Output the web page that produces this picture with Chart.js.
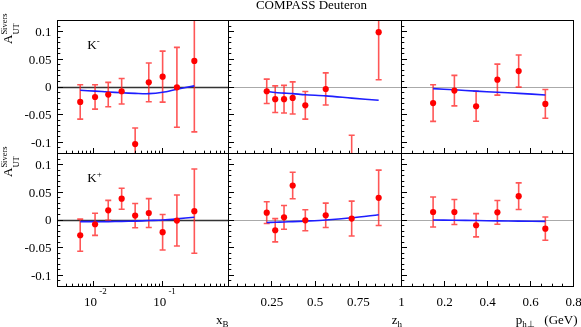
<!DOCTYPE html>
<html>
<head>
<meta charset="utf-8">
<script src="https://cdn.jsdelivr.net/npm/chart.js@4.4.1/dist/chart.umd.min.js"></script>
<style>
  html, body { margin: 0; padding: 0; background: #fff; }
  #wrap { position: relative; width: 581px; height: 327px; }
  #wrap canvas { position: absolute; left: 0; top: 0; }
</style>
</head>
<body>
<div id="wrap"></div>
<script>
const FONT = '"Liberation Serif", "Times New Roman", serif';

// bin centres
const xB = [0.0064, 0.0105, 0.0163, 0.0255, 0.040, 0.063, 0.100, 0.161, 0.288];
const zh = [0.221, 0.27, 0.321, 0.371, 0.444, 0.562, 0.712, 0.868];
const pt = [0.147, 0.246, 0.347, 0.446, 0.545, 0.669];

// K- asymmetries
const kmX = [-0.027, -0.018, -0.0137, -0.0077, -0.103, 0.0084, 0.0187, -0.0005, 0.047];
const kmXErr = [0.031, 0.022, 0.022, 0.023, 0.029, 0.035, 0.046, 0.072, 0.128];
const kmXFit = [-0.006, -0.0075, -0.009, -0.0105, -0.0115, -0.012, -0.0095, -0.004, 0.002];
const kmZ = [-0.0077, -0.022, -0.022, -0.0197, -0.033, -0.0036, -0.13, 0.099];
const kmZErr = [0.022, 0.024, 0.025, 0.029, 0.025, 0.029, 0.043, 0.086];
const kmZFit = [-0.008, -0.010, -0.011, -0.012, -0.014, -0.016, -0.020, -0.024];
const kmP = [-0.029, -0.0065, -0.0347, 0.0133, 0.0287, -0.0305];
const kmPErr = [0.033, 0.0275, 0.027, 0.028, 0.029, 0.026];
const kmPFit = [-0.003, -0.005, -0.0075, -0.0095, -0.0115, -0.0144];

// K+ asymmetries
const kpX = [-0.0275, -0.0077, 0.0174, 0.0384, 0.0079, 0.0126, -0.022, -0.001, 0.016];
const kpXErr = [0.029, 0.020, 0.018, 0.019, 0.022, 0.026, 0.032, 0.046, 0.076];
const kpXFit = [-0.003, -0.003, -0.003, -0.0025, -0.002, -0.001, 0.000, 0.002, 0.005];
const kpZ = [0.0133, -0.0185, 0.0048, 0.0623, -0.0005, 0.0084, 0.0025, 0.040];
const kpZErr = [0.0195, 0.021, 0.0215, 0.024, 0.019, 0.022, 0.0315, 0.050];
const kpZFit = [-0.0045, -0.004, -0.0035, -0.003, -0.002, 0.000, 0.004, 0.0095];
const kpP = [0.0144, 0.0144, -0.0095, 0.0138, 0.043, -0.0156];
const kpPErr = [0.027, 0.0225, 0.021, 0.0215, 0.024, 0.021];
const kpPFit = [0, -0.0005, -0.001, -0.0015, -0.002, -0.0025];

// ticks
const yMajor = [-0.1, -0.05, 0, 0.05, 0.1];
const yTickLabels = ['-0.1', '-0.05', '0', '0.05', '0.1'];
const xBMajor = [0.01, 0.1];
const xBExponents = ['-2', '-1'];
const zMajor = [0.25, 0.5, 0.75, 1];
const zTickLabels = ['0.25', '0.5', '0.75', '1'];
const pMajor = [0.2, 0.4, 0.6, 0.8];
const pTickLabels = ['0.2', '0.4', '0.6', '0.8'];

const yMinor = [];
for (let i = -12; i <= 12; i++) if (i % 5 !== 0) yMinor.push(i / 100);
const xBMinor = [];
[0.001, 0.01, 0.1].forEach(d => {
    for (let k = 2; k <= 9; k++) {
        const v = k * d;
        if (v > 0.0031 && v < 0.89) xBMinor.push(v);
    }
});
const zMinor = [];
for (let i = 1; i < 20; i++) if (i % 5 !== 0) zMinor.push(i / 20);
const pMinor = [];
for (let i = 1; i < 16; i++) if (i % 4 !== 0) pMinor.push(i / 20);

// pad layout
const colEdges = [57.5, 228.5, 401.5, 573.5];
const rowEdges = [20.5, 153.5, 286.5];

const xAxes = [
    { type: 'logarithmic', min: 0.003, max: 0.9, major: xBMajor, minor: xBMinor },
    { type: 'linear', min: 0, max: 1, major: zMajor, minor: zMinor, labels: zTickLabels },
    { type: 'linear', min: 0, max: 0.8, major: pMajor, minor: pMinor, labels: pTickLabels }
];

const panels = [
    { row: 0, col: 0, x: xB, val: kmX, err: kmXErr, fit: kmXFit, sign: '-' },
    { row: 0, col: 1, x: zh, val: kmZ, err: kmZErr, fit: kmZFit },
    { row: 0, col: 2, x: pt, val: kmP, err: kmPErr, fit: kmPFit },
    { row: 1, col: 0, x: xB, val: kpX, err: kpXErr, fit: kpXFit, sign: '+' },
    { row: 1, col: 1, x: zh, val: kpZ, err: kpZErr, fit: kpZFit },
    { row: 1, col: 2, x: pt, val: kpP, err: kpPErr, fit: kpPFit }
];

const snap = v => Math.round(v - 0.5) + 0.5;

// draws a run of text pieces; keep:true does not move the pen (stacked sup/sub)
function rich(ctx, parts, x, y) {
    let cx = x;
    parts.forEach(p => {
        ctx.font = p.size + 'px ' + FONT;
        ctx.fillText(p.t, cx, y + (p.dy || 0));
        if (!p.keep) cx += ctx.measureText(p.t).width;
    });
}
function richWidth(ctx, parts) {
    let w = 0;
    parts.forEach(p => {
        ctx.font = p.size + 'px ' + FONT;
        if (!p.keep) w += ctx.measureText(p.t).width;
    });
    return w;
}

const panelPlugin = {
    id: 'panel',
    beforeDatasetsDraw(chart, args, o) {
        const p = panels[o.index];
        const { ctx, chartArea: a, scales: { x, y } } = chart;
        ctx.save();
        ctx.beginPath();
        ctx.rect(a.left, a.top, a.right - a.left, a.bottom - a.top);
        ctx.clip();

        // zero line
        const y0 = snap(y.getPixelForValue(0));
        ctx.strokeStyle = p.col === 0 ? '#333' : '#aaa';
        ctx.lineWidth = p.col === 0 ? 1.3 : 1.1;
        ctx.beginPath();
        ctx.moveTo(a.left, y0);
        ctx.lineTo(a.right, y0);
        ctx.stroke();

        // error bars
        ctx.strokeStyle = 'rgba(255, 30, 30, 0.75)';
        ctx.lineWidth = 1.6;
        p.x.forEach((xv, i) => {
            const px = x.getPixelForValue(xv);
            const hi = y.getPixelForValue(p.val[i] + p.err[i]);
            const lo = y.getPixelForValue(p.val[i] - p.err[i]);
            ctx.beginPath();
            ctx.moveTo(px, hi); ctx.lineTo(px, lo);
            ctx.moveTo(px - 3, hi); ctx.lineTo(px + 3, hi);
            ctx.moveTo(px - 3, lo); ctx.lineTo(px + 3, lo);
            ctx.stroke();
        });
        ctx.restore();
    },
    afterDraw(chart, args, o) {
        const p = panels[o.index];
        const ax = xAxes[p.col];
        const { ctx, chartArea: a, scales: { x, y } } = chart;
        ctx.save();
        ctx.strokeStyle = '#000';
        ctx.lineWidth = 1;

        // inside ticks, left and bottom
        ctx.beginPath();
        yMinor.forEach(v => {
            const py = snap(y.getPixelForValue(v));
            ctx.moveTo(a.left, py); ctx.lineTo(a.left + 2.8, py);
        });
        yMajor.forEach(v => {
            const py = snap(y.getPixelForValue(v));
            ctx.moveTo(a.left, py); ctx.lineTo(a.left + 5.5, py);
        });
        ax.minor.forEach(v => {
            const px = snap(x.getPixelForValue(v));
            ctx.moveTo(px, a.bottom); ctx.lineTo(px, a.bottom - 2.8);
        });
        ax.major.forEach(v => {
            const px = snap(x.getPixelForValue(v));
            ctx.moveTo(px, a.bottom); ctx.lineTo(px, a.bottom - 5.5);
        });
        ctx.stroke();
        ctx.strokeRect(a.left, a.top, a.right - a.left, a.bottom - a.top);

        ctx.fillStyle = '#000';
        // y tick labels on the left column
        if (p.col === 0) {
            ctx.font = '13px ' + FONT;
            ctx.textAlign = 'right';
            ctx.textBaseline = 'middle';
            yMajor.forEach((v, i) => {
                ctx.fillText(yTickLabels[i], 51.5, y.getPixelForValue(v) + 1);
            });
            ctx.textAlign = 'left';
            ctx.textBaseline = 'alphabetic';
            rich(ctx, [{ t: 'K', size: 13 }, { t: p.sign, size: 9, dy: -4.5 }], 87.3, a.top + 28);
        }
        // x tick labels on the bottom row
        if (p.row === 1) {
            ctx.textBaseline = 'alphabetic';
            if (ax.type === 'logarithmic') {
                ctx.textAlign = 'left';
                ax.major.forEach((v, i) => {
                    const px = x.getPixelForValue(v);
                    rich(ctx, [{ t: '10', size: 13 }, { t: ' ' + xBExponents[i], size: 9, dy: -12 }], px - 9.5, 306);
                });
            } else {
                ctx.font = '13px ' + FONT;
                ctx.textAlign = 'center';
                ax.major.forEach((v, i) => {
                    ctx.fillText(ax.labels[i], x.getPixelForValue(v), 306);
                });
            }
        }
        ctx.restore();
    }
};

// title and axis titles
const textPlugin = {
    id: 'texts',
    afterDraw(chart) {
        const ctx = chart.ctx;
        ctx.save();
        ctx.fillStyle = '#000';
        ctx.textBaseline = 'alphabetic';
        ctx.font = '13px ' + FONT;
        ctx.textAlign = 'center';
        ctx.fillText('COMPASS Deuteron', 311.5, 9);
        ctx.textAlign = 'left';

        [0, 1].forEach(r => {
            ctx.save();
            ctx.translate(11.5, 44 + r * 133);
            ctx.rotate(-Math.PI / 2);
            rich(ctx, [
                { t: 'A', size: 13 },
                { t: 'Sivers', size: 8.5, dy: -5, keep: true },
                { t: 'UT', size: 8.5, dy: 7 }
            ], 0, 0);
            ctx.restore();
        });

        const xt = [{ t: 'x', size: 13 }, { t: 'B', size: 9, dy: 3 }];
        rich(ctx, xt, colEdges[1] - richWidth(ctx, xt), 324);
        const zt = [{ t: 'z', size: 13 }, { t: 'h', size: 9, dy: 3 }];
        rich(ctx, zt, colEdges[2] + 0.5 - richWidth(ctx, zt), 324);
        rich(ctx, [{ t: 'p', size: 13 }, { t: 'h\u22A5', size: 9, dy: 3 }], 515.7, 323.5);
        ctx.font = '13px ' + FONT;
        ctx.fillText('(GeV)', 544.3, 323.5);
        ctx.restore();
    }
};

const wrap = document.getElementById('wrap');
panels.forEach((p, idx) => {
    const cv = document.createElement('canvas');
    cv.width = 581;
    cv.height = 327;
    wrap.appendChild(cv);
    const ax = xAxes[p.col];
    new Chart(cv, {
        type: 'scatter',
        data: {
            datasets: [
                {
                    data: p.x.map((v, i) => ({ x: v, y: p.val[i] })),
                    pointRadius: 3.1,
                    pointBackgroundColor: '#ff0000',
                    pointBorderWidth: 0,
                    clip: 0
                },
                {
                    type: 'line',
                    data: p.x.map((v, i) => ({ x: v, y: p.fit[i] })),
                    borderColor: 'rgb(30, 30, 255)',
                    borderWidth: 1.6,
                    pointRadius: 0,
                    tension: 0.3,
                    fill: false,
                    clip: 0
                }
            ]
        },
        options: {
            responsive: false,
            animation: false,
            devicePixelRatio: 1,
            layout: {
                padding: {
                    left: colEdges[p.col],
                    right: 581 - colEdges[p.col + 1],
                    top: rowEdges[p.row],
                    bottom: 327 - rowEdges[p.row + 1]
                }
            },
            scales: {
                x: { type: ax.type, min: ax.min, max: ax.max, display: false },
                y: { type: 'linear', min: -0.12, max: 0.12, display: false }
            },
            plugins: {
                legend: { display: false },
                tooltip: { enabled: false },
                panel: { index: idx }
            }
        },
        plugins: idx === panels.length - 1 ? [panelPlugin, textPlugin] : [panelPlugin]
    });
});
</script>
</body>
</html>
